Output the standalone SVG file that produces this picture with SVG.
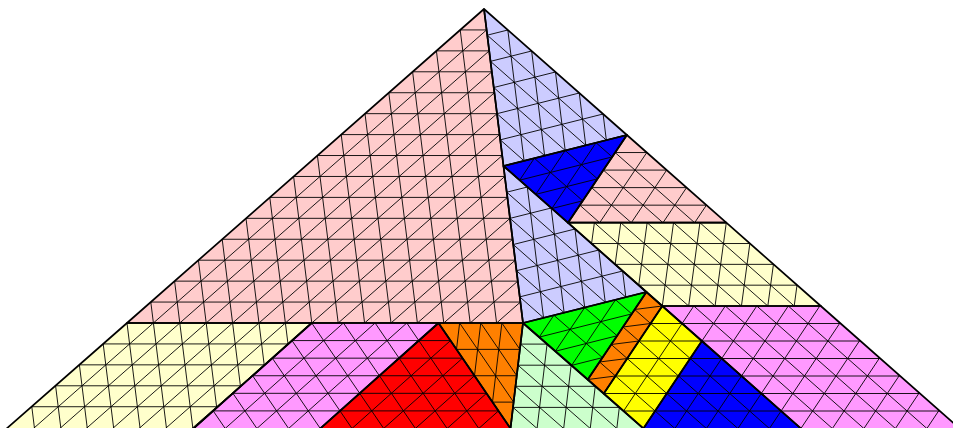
<svg xmlns="http://www.w3.org/2000/svg" xmlns:xlink="http://www.w3.org/1999/xlink" width="953" height="428" viewBox="0 0 953 428">
<style>
.g{fill:none;stroke:#000;stroke-width:0.9}
.b{fill:none;stroke:#000;stroke-width:1.7;stroke-linejoin:round}
</style>
<defs>
<polygon id="p-pinkL" points="484,9 127,323 523,323"/>
<polygon id="p-creamL" points="127,323 311.7,323 184,437 -3,437"/>
<polygon id="p-lavT" points="484,9 626.9,135 503.5,166"/>
<polygon id="p-lavM" points="503.5,166 646.4,292 523,323"/>
<polygon id="p-blueT" points="503.5,166 626.9,135 568,222.7"/>
<polygon id="p-pinkR" points="626.9,135 726.3,222.7 568,222.7"/>
<polygon id="p-creamR" points="568,222.7 726.3,222.7 820.8,306 662.3,306"/>
<polygon id="p-magR" points="662.3,306 820.8,306 969.4,437 810.5,437"/>
<polygon id="p-yellow" points="662.3,306 701.9,341 643.4,428.5 603.8,393.5"/>
<polygon id="p-blueB" points="701.9,341 810.5,437 637.7,437"/>
<polygon id="p-strip" points="646.4,292 662.3,306 603.8,393.5 587.8,379.5"/>
<polygon id="p-green" points="523,323 646.4,292 587.8,379.5"/>
<polygon id="p-lgreen" points="523,323 653.1,437 509.5,437"/>
<polygon id="p-orange" points="438.5,323 523,323 510.5,428.5"/>
<polygon id="p-red" points="438.5,323 516.3,437 310.75,437"/>
<polygon id="p-magL" points="311.7,323 438.5,323 310.75,437 184,437"/>
<clipPath id="c-pink"><use xlink:href="#p-pinkL"/><use xlink:href="#p-creamL"/></clipPath>
<clipPath id="c-lav"><use xlink:href="#p-lavT"/><use xlink:href="#p-lavM"/></clipPath>
<clipPath id="c-blueT"><use xlink:href="#p-blueT"/></clipPath>
<clipPath id="c-pinkR"><use xlink:href="#p-pinkR"/></clipPath>
<clipPath id="c-creamR"><use xlink:href="#p-creamR"/></clipPath>
<clipPath id="c-ly"><use xlink:href="#p-magR"/><use xlink:href="#p-yellow"/><use xlink:href="#p-blueB"/></clipPath>
<clipPath id="c-strip"><use xlink:href="#p-strip"/></clipPath>
<clipPath id="c-green"><use xlink:href="#p-green"/></clipPath>
<clipPath id="c-lgreen"><use xlink:href="#p-lgreen"/></clipPath>
<clipPath id="c-orange"><use xlink:href="#p-orange"/></clipPath>
<clipPath id="c-lm"><use xlink:href="#p-magL"/><use xlink:href="#p-red"/></clipPath>
</defs>

<g id="fills">
<use xlink:href="#p-pinkL" fill="#ffcccc"/>
<use xlink:href="#p-creamL" fill="#ffffcc"/>
<use xlink:href="#p-lavT" fill="#ccccff"/>
<use xlink:href="#p-lavM" fill="#ccccff"/>
<use xlink:href="#p-blueT" fill="#0000ff"/>
<use xlink:href="#p-pinkR" fill="#ffcccc"/>
<use xlink:href="#p-creamR" fill="#ffffcc"/>
<use xlink:href="#p-magR" fill="#ff99ff"/>
<use xlink:href="#p-lgreen" fill="#ccffcc"/>
<use xlink:href="#p-yellow" fill="#ffff00"/>
<use xlink:href="#p-blueB" fill="#0000ff"/>
<use xlink:href="#p-strip" fill="#ff8000"/>
<use xlink:href="#p-green" fill="#00ff00"/>
<use xlink:href="#p-red" fill="#ff0000"/>
<use xlink:href="#p-orange" fill="#ff8000"/>
<use xlink:href="#p-magL" fill="#ff99ff"/>
</g>

<g id="pink-cream-left" clip-path="url(#c-pink)">
<path class="g" d="M0 29.93l530 0m0 20.933l-530 0m0 20.933l530 0m0 20.933l-530 0m0 20.933l530 0m0 20.933l-530 0m0 20.933l530 0m0 20.933l-530 0m0 20.933l530 0m0 20.933l-530 0m0 20.933l530 0m0 20.933l-530 0m0 20.933l530 0m0 20.933l-530 0m0 20.933l530 0m0 20.933l-530 0m0 20.933l530 0m0 20.933l-530 0m0 20.933l530 0"/>
<path class="g" d="M510.4 9l-478.65 421m26.4 0l478.65-421m26.4 0l-478.65 421m26.4 0l478.65-421m26.4 0l-478.65 421m26.4 0l478.65-421m26.4 0l-478.65 421m26.4 0l478.65-421m26.4 0l-478.65 421m26.4 0l478.65-421m26.4 0l-478.65 421m26.4 0l478.65-421m26.4 0l-478.65 421m26.4 0l478.65-421"/>
<path class="g" d="M-17.6 9l52.29 421m26.4 0l-52.29-421m26.4 0l52.29 421m26.4 0l-52.29-421m26.4 0l52.29 421m26.4 0l-52.29-421m26.4 0l52.29 421m26.4 0l-52.29-421m26.4 0l52.29 421m26.4 0l-52.29-421m26.4 0l52.29 421m26.4 0l-52.29-421m26.4 0l52.29 421m26.4 0l-52.29-421m26.4 0l52.29 421m26.4 0l-52.29-421m26.4 0l52.29 421m26.4 0l-52.29-421m26.4 0l52.29 421"/>
</g>

<g id="lavender" clip-path="url(#c-lav)">
<path class="g" d="M505.21 9l39.86 321m21.21 0l-39.86-321m21.21 0l39.86 321m21.21 0l-39.86-321m21.21 0l39.86 321"/>
<path class="g" d="M475.91 25.17l181.5 160m3.25 26.17l-181.5-160m3.25 26.17l181.5 160m3.25 26.17l-181.5-160m3.25 26.17l181.5 160m3.25 26.17l-181.5-160m3.25 26.17l181.5 160m3.25 26.17l-181.5-160m3.25 26.17l181.5 160m3.25 26.17l-181.5-160m3.25 26.17l181.5 160"/>
<path class="g" d="M476.96 37.76l154.28-38.78m3.25 26.17l-154.28 38.78m3.25 26.17l154.28-38.78m3.25 26.17l-154.28 38.78m3.25 26.17l154.28-38.78m3.25 26.17l-154.28 38.78m3.25 26.17l154.28-38.78m3.25 26.17l-154.28 38.78m3.25 26.17l154.28-38.78m3.25 26.17l-154.28 38.78m3.25 26.17l154.28-38.78"/>
</g>

<g id="blue-top" clip-path="url(#c-blueT)">
<path class="g" d="M513.46 181.73l135.74-34.1m16.125 14.175l-135.74 34.1m16.125 14.175l135.74-34.1"/>
<path class="g" d="M531.13 155.42l70.95 62.37m30.85-7.75l-70.95-62.37m30.85-7.75l70.95 62.37"/>
<path class="g" d="M516.68 184.56l64.79-96.47m16.125 14.175l-64.79 96.47m16.125 14.175l64.79-96.47"/>
</g>

<g id="pink-right" clip-path="url(#c-pinkR)">
<path class="g" d="M611.14 149.03l107.35 94.72m-11.78 17.54l-107.35-94.72m-11.78 17.54l107.35 94.72m-11.78 17.54l-107.35-94.72"/>
<path class="g" d="M649.14 149.03l-63.61 94.72m19.88 17.54l63.61-94.72m19.88 17.54l-63.61 94.72m19.88 17.54l63.61-94.72"/>
<path class="g" d="M540 152.54l200 0m0 17.54l-200 0m0 17.54l200 0m0 17.54l-200 0"/>
</g>

<g id="cream-right" clip-path="url(#c-creamR)">
<path class="g" d="M560 243.53l270 0m0 20.825l-270 0m0 20.825l270 0"/>
<path class="g" d="M585.66 215l109.81 97m26.38 0l-109.81-97m26.38 0l109.81 97m26.38 0l-109.81-97m26.38 0l109.81 97"/>
<path class="g" d="M595.42 215l-13.07 97m26.38 0l13.07-97m26.38 0l-13.07 97m26.38 0l13.07-97m26.38 0l-13.07 97m26.38 0l13.07-97m26.38 0l-13.07 97m26.38 0l13.07-97m26.38 0l-13.07 97"/>
</g>

<g id="magenta-yellow-blue" clip-path="url(#c-ly)">
<path class="g" d="M590 323.5l380 0m0 17.5l-380 0m0 17.5l380 0m0 17.5l-380 0m0 17.5l380 0m0 17.5l-380 0"/>
<path class="g" d="M529.51 300l152.74 135m31.5 0l-152.74-135m31.5 0l152.74 135m31.5 0l-152.74-135m31.5 0l152.74 135m31.5 0l-152.74-135m31.5 0l152.74 135m31.5 0l-152.74-135m31.5 0l152.74 135"/>
<path class="g" d="M697.81 300l-90.26 135m31.5 0l90.26-135m31.5 0l-90.26 135m31.5 0l90.26-135m31.5 0l-90.26 135m31.5 0l90.26-135m31.5 0l-90.26 135m31.5 0l90.26-135m31.5 0l-90.26 135m31.5 0l90.26-135m31.5 0l-90.26 135"/>
</g>

<g id="orange-strip" clip-path="url(#c-strip)">
<path class="g" d="M629.93 305.3l25.44 22.4m-11.7 17.5l-25.44-22.4m-11.7 17.5l25.44 22.4m-11.7 17.5l-25.44-22.4"/>
<path class="g" d="M667.82 305.3l-38.64 4.9m-11.7 17.5l38.64-4.9m-11.7 17.5l-38.64 4.9m-11.7 17.5l38.64-4.9m-11.7 17.5l-38.64 4.9"/>
</g>

<g id="green" clip-path="url(#c-green)">
<path class="g" d="M533.03 338.68l135.74-34.1m16.2 14.125l-135.74 34.1m16.2 14.125l135.74-34.1"/>
<path class="g" d="M550.61 312.43l71.28 62.15m30.85-7.75l-71.28-62.15m30.85-7.75l71.28 62.15"/>
<path class="g" d="M536.27 341.5l64.46-96.25m16.2 14.125l-64.46 96.25m16.2 14.125l64.46-96.25"/>
</g>

<g id="light-green" clip-path="url(#c-lgreen)">
<path class="g" d="M500 344.1l160 0m0 21.1l-160 0m0 21.1l160 0m0 21.1l-160 0"/>
<path class="g" d="M410.97 318l133.52 117m26.58 0l-133.52-117m26.58 0l133.52 117m26.58 0l-133.52-117"/>
<path class="g" d="M550.17 318l-13.86 117m26.58 0l13.86-117m26.58 0l-13.86 117m26.58 0l13.86-117"/>
</g>

<g id="orange" clip-path="url(#c-orange)">
<path class="g" d="M430 349.37l100 0m0 26.37l-100 0m0 26.37l100 0"/>
<path class="g" d="M456.21 318l79.86 117m21.125 0l-79.86-117m21.125 0l79.86 117"/>
<path class="g" d="M460.22 318l-13.86 117m21.125 0l13.86-117m21.125 0l-13.86 117"/>
</g>

<g id="magenta-red-left" clip-path="url(#c-lm)">
<path class="g" d="M180 340.58l340 0m0 17.58l-340 0m0 17.58l340 0m0 17.58l-340 0m0 17.58l340 0"/>
<path class="g" d="M348.99 318l-131.11 117m31.7 0l131.11-117m31.7 0l-131.11 117m31.7 0l131.11-117m31.7 0l-131.11 117m31.7 0l131.11-117m31.7 0l-131.11 117m31.7 0l131.11-117m31.7 0l-131.11 117"/>
<path class="g" d="M149.79 318l79.86 117m31.7 0l-79.86-117m31.7 0l79.86 117m31.7 0l-79.86-117m31.7 0l79.86 117m31.7 0l-79.86-117m31.7 0l79.86 117m31.7 0l-79.86-117m31.7 0l79.86 117"/>
</g>

<g id="borders">
<use xlink:href="#p-pinkL" class="b"/>
<use xlink:href="#p-creamL" class="b"/>
<use xlink:href="#p-lavT" class="b"/>
<use xlink:href="#p-lavM" class="b"/>
<use xlink:href="#p-blueT" class="b"/>
<use xlink:href="#p-pinkR" class="b"/>
<use xlink:href="#p-creamR" class="b"/>
<use xlink:href="#p-magR" class="b"/>
<use xlink:href="#p-lgreen" class="b"/>
<use xlink:href="#p-yellow" class="b"/>
<use xlink:href="#p-blueB" class="b"/>
<use xlink:href="#p-strip" class="b"/>
<use xlink:href="#p-green" class="b"/>
<use xlink:href="#p-red" class="b"/>
<use xlink:href="#p-orange" class="b"/>
<use xlink:href="#p-magL" class="b"/>
</g>
</svg>
